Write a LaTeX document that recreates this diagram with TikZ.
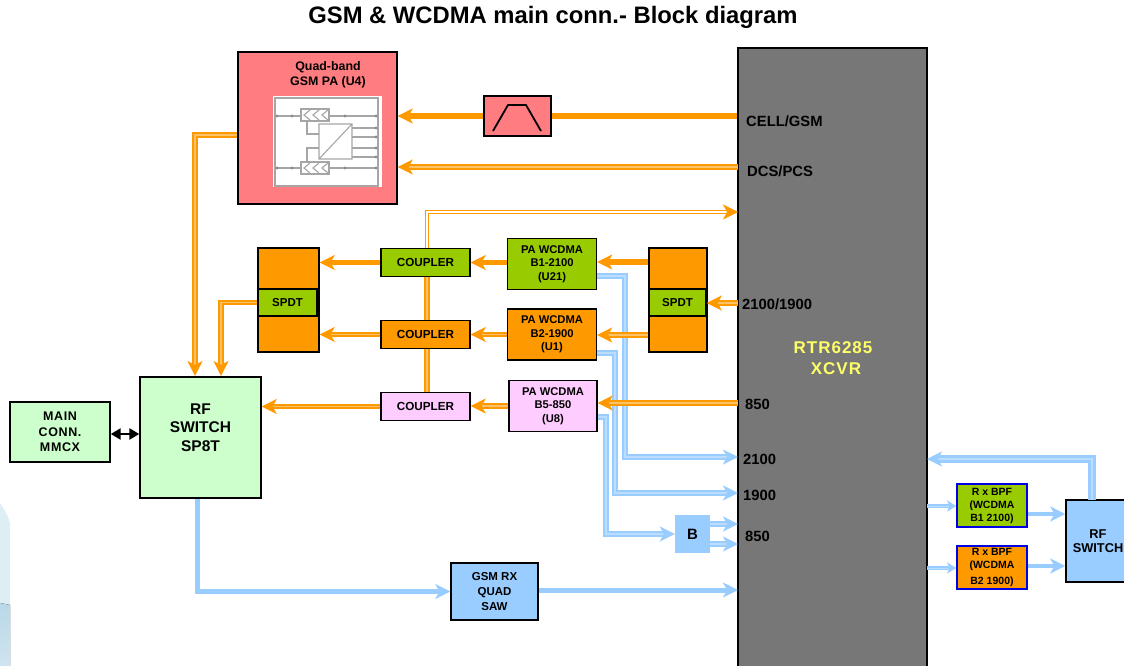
\documentclass[tikz,border=0pt]{standalone}
\usepackage{fontspec}
\setmainfont{Liberation Sans}
\usetikzlibrary{arrows.meta,calc}
\definecolor{paRed}{HTML}{FF7C80}
\definecolor{gnLeaf}{HTML}{99CC00}
\definecolor{orMain}{HTML}{FF9900}
\definecolor{orLite}{HTML}{FFC266}
\definecolor{pkLite}{HTML}{FFCCFF}
\definecolor{gnLite}{HTML}{CCFFCC}
\definecolor{blMain}{HTML}{99CCFF}
\definecolor{blLite}{HTML}{BBDDFF}
\definecolor{grBody}{HTML}{777777}
\definecolor{ylText}{HTML}{FFFF66}
\definecolor{bgTop}{HTML}{DDEEF5}
\definecolor{bgLow}{HTML}{B9D8E8}
\definecolor{bgEnd}{HTML}{CFE4EF}
\tikzset{
	blk/.style={draw=black,line width=1.4pt,inner sep=0pt,align=center,font=\bfseries\fontsize{11.2}{13.5}\selectfont},
	bpf/.style={blk,draw=blue!90!black,line width=1.6pt,minimum width=70pt,minimum height=43pt,font=\bfseries\fontsize{10.5}{13}\selectfont},
	cpl/.style={blk,minimum width=89pt,minimum height=28pt,font=\bfseries\fontsize{11.7}{14}\selectfont},
	pawc/.style={blk,minimum width=89pt,minimum height=51pt},
	pin/.style={font=\bfseries\fontsize{14.8}{17}\selectfont,anchor=west,inner sep=0pt},
	tipo/.style={-{Stealth[length=15pt,width=15pt,inset=4pt]}},
	orth/.style={tipo,draw=orMain,line width=5.2pt},
	ordb/.style={tipo,draw=orMain,line width=2pt,double=orLite,double distance=1.2pt},
	blth/.style={tipo,draw=blMain,line width=2.6pt,double=blLite,double distance=1.4pt},
	blfat/.style={tipo,draw=blMain,line width=5pt},
	inn/.style={draw=black!35,line width=1.1pt}
}
\begin{document}
\begin{tikzpicture}[x=1pt,y=-1pt]
	\useasboundingbox (0,0) rectangle (1124,666);
	% faint corner of the page background
	\fill[bgTop] (0,503) .. controls (5,510) and (8,516) .. (10,523) -- (10,605) -- (0,603) -- cycle;
	\fill[top color=bgLow,bottom color=bgEnd] (0,603) -- (10,605) -- (10,666) -- (0,666) -- cycle;
	\node (title) at (553,17) {\bfseries\fontsize{23.8}{26}\selectfont GSM \& WCDMA main conn.- Block diagram};

	% blocks
	\node[blk,fill=grBody,minimum width=189pt,minimum height=640pt] (xcvr) at (832.5,368) {};
	\node[font=\bfseries\fontsize{17}{21}\selectfont\addfontfeature{LetterSpace=6},text=ylText,align=left] (xcvrlbl) at (833,358) {RTR6285\\[0pt]\ \ \ XCVR};
	\node[blk,fill=paRed,minimum width=159pt,minimum height=152pt] (pa) at (317.5,128) {};
	\node[font=\bfseries\fontsize{12.4}{15}\selectfont,align=center] (palbl) at (328,75) {Quad-band\\GSM PA (U4)};
	\node[fill=white,minimum width=109pt,minimum height=91pt,inner sep=0pt] (pic) at (327.5,141.5) {};
	\node[blk,fill=paRed,minimum width=67pt,minimum height=40pt] (flt) at (517.5,116) {};
	\node[blk,fill=orMain,minimum width=61pt,minimum height=104pt] (swl) at (288.5,300) {};
	\node[blk,fill=gnLeaf,minimum width=59pt,minimum height=27pt,font=\bfseries\fontsize{11.5}{14}\selectfont] (spl) at (287.5,302.5) {SPDT};
	\node[blk,fill=orMain,minimum width=58pt,minimum height=104pt] (swr) at (678,300) {};
	\node[blk,fill=gnLeaf,minimum width=57pt,minimum height=27pt,font=\bfseries\fontsize{11.5}{14}\selectfont] (spr) at (677.5,302.5) {SPDT};
	\node[cpl,fill=gnLeaf] (cpa) at (425.5,262.5) {COUPLER};
	\node[cpl,fill=orMain] (cpb) at (425.5,334.5) {COUPLER};
	\node[cpl,fill=pkLite] (cpc) at (425.5,406.5) {COUPLER};
	\node[pawc,fill=gnLeaf] (wca) at (552,264) {PA WCDMA\\B1-2100\\(U21)};
	\node[pawc,fill=orMain] (wcb) at (552,334.5) {PA WCDMA\\B2-1900\\(U1)};
	\node[pawc,fill=pkLite,minimum width=88pt] (wcc) at (553,406) {PA WCDMA\\B5-850\\(U8)};
	\node[blk,fill=gnLite,minimum width=100pt,minimum height=60pt,font=\bfseries\fontsize{12.5}{15.5}\selectfont\addfontfeature{LetterSpace=5}] (conn) at (60,432) {MAIN\\CONN.\\MMCX};
	\node[blk,fill=gnLite,minimum width=121pt,minimum height=121pt,font=\bfseries\fontsize{15.5}{18.5}\selectfont] (rfa) at (200.5,437.5) {RF\\SWITCH\\SP8T\\[-4pt]\strut};
	\node[blk,fill=blMain,minimum width=87pt,minimum height=57pt,font=\bfseries\fontsize{11.5}{15}\selectfont] (saw) at (494.5,591.5) {GSM RX\\QUAD\\SAW};
	\node[fill=blMain,minimum width=35pt,minimum height=38pt,inner sep=0pt,font=\bfseries\fontsize{15}{17}\selectfont] (bal) at (692.5,534) {B};
	\node[bpf,fill=gnLeaf] (bpa) at (992,505.5) {R x BPF\\(WCDMA\\B1 2100)};
	\node[bpf,fill=orMain] (bpb) at (992,567.5) {R x BPF\\(WCDMA\\[3pt]B2 1900)};
	\node[blk,fill=blMain,minimum width=64pt,minimum height=82pt,font=\bfseries\fontsize{12.8}{14.5}\selectfont] (rfb) at (1098,541) {RF\\SWITCH};

	% filter mark
	\draw[line width=1.8pt,line join=round] (493,131) -- (508,105) -- (526,105) -- (541,131);

	% picture inside the GSM PA
	\draw[inn] (275,98) rectangle (378,186);
	\draw[inn] (275,116) -- (378,116) (275,168) -- (378,168);
	\draw[inn,fill=white] (301,109) rectangle (329,121) (301,162) rectangle (329,174);
	\foreach \x in {304,313,322} \draw[inn] (\x+6,110) -- (\x,115) -- (\x+6,120) (\x+6,163) -- (\x,168) -- (\x+6,173);
	\draw[inn] (307,121) |- (319,134) (307,162) |- (319,148);
	\draw[inn] (319,124) rectangle (352,159) (319,159) -- (352,124);
	\foreach \y in {128,137,148,157} \draw[inn] (352,\y) -- (376,\y);
	\foreach \x/\y in {277/116,292/116,345/116,376/116,277/168,292/168,345/168,376/168,376/128,376/137,376/148,376/157} \fill[black!45] (\x,\y) circle (1.6);

	% rf pins on the xcvr edge
	\path
	(xcvr.west |- flt.east) coordinate (pcell)
	(738,167) coordinate (pdcs)
	(738,212) coordinate (pfb)
	(738,303) coordinate (pmid)
	(738,403) coordinate (p850)
	(738,457) coordinate (ra)
	(738,493) coordinate (rb)
	(738,524) coordinate (rc)
	(738,544) coordinate (rd)
	(738,590) coordinate (re)
	(927,459) coordinate (rf)
	(927,506) coordinate (rg)
	(927,568) coordinate (rh);

	% blue rx and tx paths
	\draw[blth] (wca.east |- 0,276) -| (625,340) -- (625,457) -- (ra);
	\draw[blth] (wcb.east |- 0,353) -| (615,400) -- (615,493) -- (rb);
	\draw[blth] (wcc.east |- 0,417) -| (606,480) -- (606,534) -- (bal.west);
	\draw[blth] (bal.east |- rc) -- (rc);
	\draw[blth] (bal.east |- rd) -- (rd);
	\draw[blfat] (saw.east |- re) -- (re);
	\draw[blfat,line width=4.2pt] (rfa.south) ++(-3,0) |- (saw.west);
	\draw[blth,line width=3pt] (1092,500) |- (rf);
	\draw[blth,line width=1.6pt,double distance=1pt,-{Stealth[length=9pt,width=11pt,inset=2pt]}] (rg) -- (rg -| bpa.west);
	\draw[blth,line width=1.6pt,double distance=1pt,-{Stealth[length=9pt,width=11pt,inset=2pt]}] (rh) -- (rh -| bpb.west);
	\draw[blfat,line width=4.2pt] (bpa.east |- 0,514) -- (rfb.west |- 0,514);
	\draw[blfat,line width=4.2pt] (bpb.east |- 0,566) -- (rfb.west |- 0,566);

	% orange tx paths
	\draw[draw=orMain,line width=5.2pt] (pcell) -- (flt.east);
	\draw[orth] (flt.west) -- (flt.west -| pa.east);
	\draw[ordb] (pdcs) -- (pdcs -| pa.east);
	\draw[ordb,line width=1.4pt,double distance=1.6pt,double=white,tipo] (cpa.north -| 427,0) |- (pfb);
	\draw[ordb,-,line width=2.2pt,double distance=1.6pt] (427,277) -- (427,320);
	\draw[ordb,-,line width=2.2pt,double distance=1.6pt] (427,349) -- (427,392);
	\draw[ordb] (pa.west |- 0,135) -| (195,376);
	\draw[ordb] (spl.west) -| (221,376);
	\draw[orth] (cpa.west) -- (cpa.west -| swl.east);
	\draw[ordb] (cpb.west) -- (cpb.west -| swl.east);
	\draw[ordb] (cpc.west) -- (cpc.west -| rfa.east);
	\draw[orth] (wca.west |- cpa.east) -- (cpa.east);
	\draw[ordb] (wcb.west) -- (wcb.west -| cpb.east);
	\draw[ordb] (wcc.west) -- (wcc.west -| cpc.east);
	\draw[orth] (swr.west |- 0,262) -- (wca.east |- 0,262);
	\draw[ordb] (swr.west |- 0,335) -- (wcb.east |- 0,335);
	\draw[ordb] (pmid) -- (spr.east |- pmid);
	\draw[ordb] (p850) -- (wcc.east |- p850);
	\draw[{Stealth[length=10pt,width=11pt,inset=0pt]}-{Stealth[length=10pt,width=11pt,inset=0pt]},line width=2.4pt] (conn.east |- 0,434) -- (rfa.west |- 0,434);

	% pin names
	\node[pin] (ncell) at (746,121) {CELL/GSM};
	\node[pin] (ndcs) at (747,171) {DCS/PCS};
	\node[pin] (nmid) at (742,304) {2100/1900};
	\node[pin] (na) at (745,404) {850};
	\node[pin] (nb) at (743,459) {2100};
	\node[pin] (nc) at (743,495) {1900};
	\node[pin] (nd) at (745,536) {850};
\end{tikzpicture}
\end{document}
